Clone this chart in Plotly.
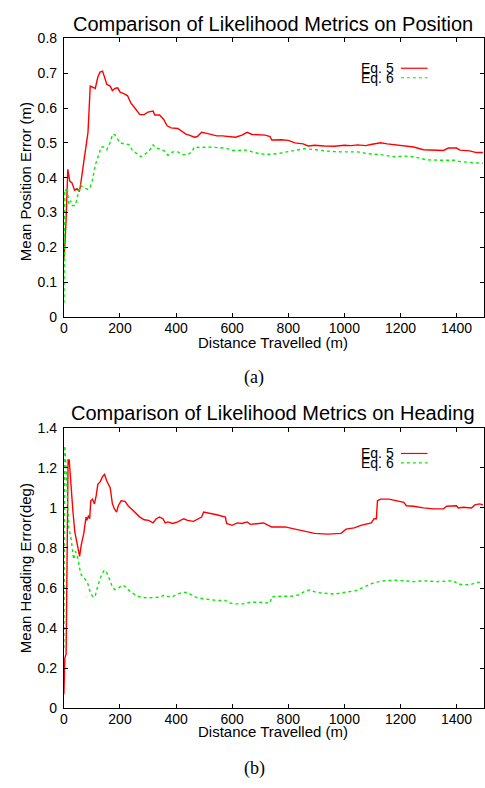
import plotly.graph_objects as go

# ---------------- data ----------------
pos_eq5_x = [0, 2, 8, 14, 21, 29, 38, 47, 55, 59, 71, 86, 94, 104, 112, 121, 129, 138, 144, 153,
             165, 173, 182, 192, 201, 212, 227, 239, 253, 271, 286, 300, 318, 324, 341, 356, 368, 382, 406, 420,
             435, 447, 465, 476, 491, 506, 524, 545, 565, 588, 612, 635, 653, 671, 694, 718, 735, 741, 776, 800,
             824, 853, 871, 894, 929, 965, 1000, 1024, 1047, 1076, 1094, 1112, 1129, 1153, 1176, 1212, 1247, 1282, 1318, 1353,
             1371, 1400, 1412, 1447, 1471, 1494]
pos_eq5_y = [0.17, 0.18, 0.28, 0.424, 0.39, 0.385, 0.364, 0.368, 0.36, 0.376, 0.446, 0.53, 0.663, 0.658, 0.656, 0.689, 0.703, 0.706, 0.693, 0.668,
             0.663, 0.65, 0.656, 0.658, 0.645, 0.642, 0.635, 0.614, 0.6, 0.581, 0.581, 0.588, 0.591, 0.58, 0.58, 0.567, 0.549, 0.543, 0.541, 0.534,
             0.525, 0.522, 0.516, 0.518, 0.53, 0.528, 0.525, 0.52, 0.52, 0.519, 0.516, 0.522, 0.53, 0.524, 0.522, 0.522, 0.518, 0.508, 0.509, 0.507,
             0.5, 0.497, 0.491, 0.493, 0.491, 0.49, 0.493, 0.492, 0.494, 0.492, 0.495, 0.497, 0.5, 0.497, 0.495, 0.491, 0.488, 0.48, 0.478, 0.478,
             0.485, 0.485, 0.479, 0.477, 0.472, 0.472]

pos_eq6_x = [0, 1, 3.5, 8, 12, 18, 24, 29, 41, 49, 59, 71, 86, 94, 102, 112, 124, 133, 141, 153,
             165, 174, 182, 192, 200, 215, 232, 244, 259, 274, 288, 306, 318, 329, 347, 359, 371, 388, 406, 424,
             441, 456, 465, 488, 512, 541, 576, 600, 624, 653, 671, 700, 729, 765, 794, 835, 859, 900, 941, 988,
             1047, 1082, 1129, 1176, 1212, 1247, 1294, 1341, 1394, 1412, 1447, 1494]
pos_eq6_y = [0.04, 0.36, 0.366, 0.362, 0.371, 0.324, 0.334, 0.32, 0.32, 0.348, 0.378, 0.371, 0.366, 0.373, 0.394, 0.436, 0.469, 0.488, 0.488, 0.48,
             0.5, 0.525, 0.523, 0.509, 0.5, 0.497, 0.495, 0.479, 0.469, 0.46, 0.466, 0.479, 0.494, 0.485, 0.481, 0.476, 0.464, 0.474, 0.474, 0.466,
             0.466, 0.474, 0.488, 0.486, 0.488, 0.487, 0.485, 0.478, 0.478, 0.479, 0.474, 0.468, 0.467, 0.469, 0.474, 0.48, 0.483, 0.48, 0.476, 0.474,
             0.474, 0.469, 0.466, 0.46, 0.462, 0.46, 0.451, 0.45, 0.45, 0.446, 0.444, 0.441]

head_eq5_x = [0, 1, 3.5, 8, 12, 15, 19, 24, 32, 39, 47, 53, 56, 62, 71, 79, 82, 88, 92, 96,
              102, 109, 115, 121, 129, 139, 145, 153, 165, 173, 180, 188, 194, 204, 218, 229, 241, 253, 271, 286,
              302, 318, 329, 341, 353, 361, 371, 388, 406, 427, 441, 462, 479, 491, 498, 518, 545, 576, 580, 600,
              618, 635, 653, 665, 688, 712, 729, 741, 788, 824, 859, 894, 941, 988, 1006, 1035, 1059, 1082, 1096, 1106,
              1114, 1118, 1129, 1159, 1188, 1212, 1221, 1247, 1282, 1318, 1353, 1365, 1400, 1406, 1424, 1453, 1465, 1482, 1494]
head_eq5_y = [0.07, 0.2, 0.25, 0.27, 0.79, 1.24, 1.24, 1.118, 0.987, 0.88, 0.824, 0.79, 0.758, 0.815, 0.873, 0.954, 0.938, 0.962, 0.946, 1.036,
              1.044, 1.02, 1.06, 1.118, 1.13, 1.158, 1.167, 1.134, 1.101, 1.02, 0.995, 0.979, 1.011, 1.036, 1.033, 1.011, 0.995, 0.979, 0.954, 0.941,
              0.938, 0.925, 0.946, 0.954, 0.946, 0.925, 0.93, 0.922, 0.93, 0.946, 0.938, 0.933, 0.946, 0.954, 0.979, 0.975, 0.966, 0.954, 0.922, 0.913,
              0.925, 0.922, 0.93, 0.918, 0.922, 0.925, 0.913, 0.905, 0.905, 0.894, 0.886, 0.873, 0.869, 0.873, 0.894, 0.9, 0.913, 0.922, 0.925, 0.946,
              0.946, 1.036, 1.044, 1.044, 1.036, 1.028, 1.011, 1.008, 1.0, 0.995, 0.995, 1.008, 1.011, 1.0, 1.003, 1.0, 1.015, 1.02, 1.015]

head_eq6_x = [0, 2, 3.5, 8, 13, 18, 24, 29, 35, 41, 47, 53, 59, 67, 76, 86, 94, 104, 112, 121,
              133, 144, 153, 165, 173, 182, 194, 206, 218, 229, 241, 259, 276, 300, 324, 341, 359, 371, 388, 406,
              424, 441, 459, 476, 500, 524, 547, 576, 588, 612, 641, 665, 694, 735, 741, 776, 812, 835, 859, 876,
              900, 929, 965, 1000, 1041, 1071, 1106, 1141, 1176, 1212, 1247, 1282, 1329, 1388, 1406, 1447, 1471, 1494]
head_eq6_y = [0.3, 1.28, 1.31, 1.2, 1.02, 0.889, 0.864, 0.791, 0.742, 0.783, 0.766, 0.725, 0.676, 0.652, 0.644, 0.619, 0.578, 0.554, 0.562, 0.611,
              0.66, 0.69, 0.676, 0.636, 0.603, 0.592, 0.598, 0.614, 0.608, 0.592, 0.578, 0.562, 0.554, 0.551, 0.551, 0.554, 0.565, 0.557, 0.557, 0.57,
              0.578, 0.578, 0.562, 0.551, 0.546, 0.542, 0.538, 0.538, 0.526, 0.521, 0.521, 0.529, 0.529, 0.525, 0.557, 0.559, 0.559, 0.565, 0.583, 0.59,
              0.578, 0.574, 0.57, 0.578, 0.587, 0.606, 0.627, 0.636, 0.639, 0.636, 0.632, 0.636, 0.632, 0.636, 0.619, 0.616, 0.627, 0.632]

series_names = ["Eq. 5", "Eq. 6"]
x_ticks = [0, 200, 400, 600, 800, 1000, 1200, 1400]
titles = ["Comparison of Likelihood Metrics on Position", "Comparison of Likelihood Metrics on Heading"]
y_titles = ["Mean Position Error (m)", "Mean Heading Error(deg)"]
x_title = "Distance Travelled (m)"
captions = ["(a)", "(b)"]

# ---------------- layout helpers ----------------
W, H = 485, 788
RED = "#ff0000"
GREEN = "#00ee00"
FONT = "Liberation Sans, Arial, Helvetica, sans-serif"


def fx(p):
    return p / W


def fy(p):
    return 1 - p / H


fig = go.Figure()
fig.add_trace(go.Scatter(x=pos_eq5_x, y=pos_eq5_y, mode="lines", name=series_names[0],
                         line=dict(color=RED, width=1.4), xaxis="x", yaxis="y", showlegend=False))
fig.add_trace(go.Scatter(x=pos_eq6_x, y=pos_eq6_y, mode="lines", name=series_names[1],
                         line=dict(color=GREEN, width=1.4, dash="dot"), xaxis="x", yaxis="y", showlegend=False))
fig.add_trace(go.Scatter(x=head_eq5_x, y=head_eq5_y, mode="lines", name=series_names[0],
                         line=dict(color=RED, width=1.4), xaxis="x2", yaxis="y2", showlegend=False))
fig.add_trace(go.Scatter(x=head_eq6_x, y=head_eq6_y, mode="lines", name=series_names[1],
                         line=dict(color=GREEN, width=1.4, dash="dot"), xaxis="x2", yaxis="y2", showlegend=False))

ax_common = dict(showline=True, linecolor="black", linewidth=1, mirror="ticks", ticks="inside",
                 ticklen=4, tickcolor="black", tickwidth=1, showgrid=False, zeroline=False,
                 tickfont=dict(family=FONT, size=14, color="black"))

xdom = [fx(60.5), fx(484.5)]
fig.update_layout(
    width=W, height=H,
    margin=dict(l=0, r=0, t=0, b=0),
    paper_bgcolor="white", plot_bgcolor="white",
    xaxis=dict(domain=xdom, range=[0, 1496], tickvals=x_ticks, anchor="y", ticklabelstandoff=-2, **ax_common),
    yaxis=dict(domain=[fy(315.3), fy(31)], range=[0, 0.8], dtick=0.1, anchor="x", ticklabelstandoff=3, **ax_common),
    xaxis2=dict(domain=xdom, range=[0, 1496], tickvals=x_ticks, anchor="y2", ticklabelstandoff=-2, **ax_common),
    yaxis2=dict(domain=[fy(714.7), fy(428.5)], range=[0, 1.4], dtick=0.2, anchor="x2", ticklabelstandoff=3, **ax_common),
)

ann = []
# titles
for t, yc in zip(titles, [16.3, 413]):
    ann.append(dict(text=t, x=fx(272), y=fy(yc), xref="paper", yref="paper", showarrow=False,
                    xanchor="center", yanchor="middle", font=dict(family=FONT, size=20, color="black")))
# x axis titles
for yc in [341, 739]:
    ann.append(dict(text=x_title, x=fx(272), y=fy(yc), xref="paper", yref="paper", showarrow=False,
                    xanchor="center", yanchor="middle", font=dict(family=FONT, size=15, color="black")))
# y axis titles
for t, yc in zip(y_titles, [177, 572]):
    ann.append(dict(text=t, x=fx(22), y=fy(yc), xref="paper", yref="paper", showarrow=False,
                    textangle=-90, xanchor="center", yanchor="middle",
                    font=dict(family=FONT, size=15, color="black")))
# captions
for t, yc in zip(captions, [377, 776]):
    ann.append(dict(text=t, x=fx(253), y=fy(yc), xref="paper", yref="paper", showarrow=False,
                    xanchor="center", yanchor="middle",
                    font=dict(family="Liberation Serif, Times New Roman, serif", size=18, color="black")))
# legends (text left of the sample line, gnuplot style)
shapes = []
for base in [61.5, 454.7]:
    for i, (name, col, dash) in enumerate(zip(series_names, [RED, GREEN], ["solid", "dot"])):
        yc = base + i * 9.7
        ann.append(dict(text=name, x=fx(396), y=fy(yc), xref="paper", yref="paper", showarrow=False,
                        xanchor="right", yanchor="middle", font=dict(family=FONT, size=14, color="black")))
        shapes.append(dict(type="line", xref="paper", yref="paper", x0=fx(401), x1=fx(428),
                           y0=fy(yc), y1=fy(yc), line=dict(color=col, width=1.2, dash=dash)))

fig.update_layout(annotations=ann, shapes=shapes)
fig.write_html("out.html", config={"displayModeBar": False},
               post_script="document.body.style.margin='0';document.body.style.overflow='hidden';")
